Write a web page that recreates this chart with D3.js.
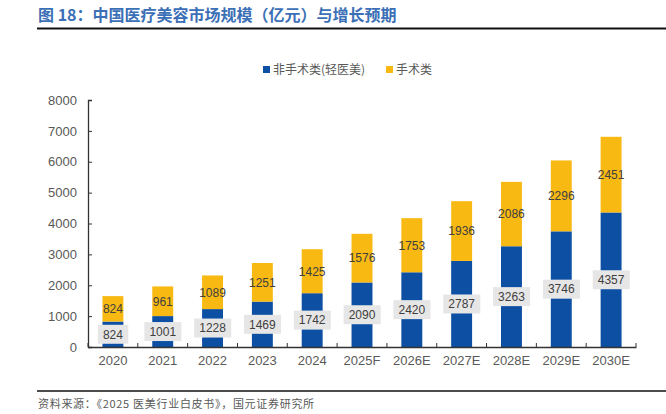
<!DOCTYPE html>
<html>
<head>
<meta charset="utf-8">
<script src="https://cdn.jsdelivr.net/npm/d3@7"></script>
<style>
  body { margin: 0; background: #fff; }
  text { font-family: "Liberation Sans", Arial, "Noto Sans CJK SC", sans-serif; }
  .cjk { font-family: "Noto Sans CJK SC", sans-serif; }
</style>
</head>
<body>
<div id="chart"></div>
<script>
const years = ["2020", "2021", "2022", "2023", "2024", "2025F", "2026E", "2027E", "2028E", "2029E", "2030E"];
const nonSurgical = [824, 1001, 1228, 1469, 1742, 2090, 2420, 2787, 3263, 3746, 4357];
const surgical = [824, 961, 1089, 1251, 1425, 1576, 1753, 1936, 2086, 2296, 2451];
const yTicks = [0, 1000, 2000, 3000, 4000, 5000, 6000, 7000, 8000];
const seriesNames = ["非手术类(轻医美)", "手术类"];

const width = 666, height = 414;
const blue = "#0c4fa3", yellow = "#f8b912";
const margin = { left: 88, right: 30, top: 100, bottom: 67 };

const svg = d3.select("#chart").append("svg")
  .attr("width", width)
  .attr("height", height);

// title
svg.append("text")
  .attr("class", "cjk")
  .attr("x", 38)
  .attr("y", 21)
  .attr("fill", "#3b6fb6")
  .attr("font-size", 16)
  .attr("font-weight", "bold")
  .text("图 18：中国医疗美容市场规模（亿元）与增长预期");

svg.append("line")
  .attr("x1", 37).attr("x2", width)
  .attr("y1", 28.5).attr("y2", 28.5)
  .attr("stroke", "#111").attr("stroke-width", 2);

const x = d3.scaleBand()
  .domain(years)
  .range([margin.left, width - margin.right])
  .paddingInner(0.58)
  .paddingOuter(0.29);

const y = d3.scaleLinear()
  .domain([0, 8000])
  .range([height - margin.bottom, margin.top]);

// stacked bars
const rows = years.map((yr, i) => ({ year: yr, a: nonSurgical[i], b: surgical[i] }));

svg.append("g").selectAll("rect")
  .data(rows)
  .join("rect")
  .attr("x", d => x(d.year))
  .attr("width", x.bandwidth())
  .attr("y", d => y(d.a))
  .attr("height", d => y(0) - y(d.a))
  .attr("fill", blue);

svg.append("g").selectAll("rect")
  .data(rows)
  .join("rect")
  .attr("x", d => x(d.year))
  .attr("width", x.bandwidth())
  .attr("y", d => y(d.a + d.b))
  .attr("height", d => y(d.a) - y(d.a + d.b))
  .attr("fill", yellow);

// axes
const xAxis = svg.append("g")
  .attr("transform", `translate(0,${y(0)})`)
  .call(d3.axisBottom(x).tickSize(0).tickPadding(9));
xAxis.select(".domain").attr("stroke", "#333").attr("stroke-width", 1.3);
xAxis.selectAll("text").attr("font-size", 13).attr("fill", "#595959");

// inward category separators
const step = x.step();
const seps = d3.range(years.length + 1).map(i => margin.left + i * step);
xAxis.selectAll(".sep")
  .data(seps)
  .join("line")
  .attr("class", "sep")
  .attr("x1", d => d).attr("x2", d => d)
  .attr("y1", 0).attr("y2", -4)
  .attr("stroke", "#333");

const yAxis = svg.append("g")
  .attr("transform", `translate(${margin.left},0)`)
  .call(d3.axisLeft(y).tickValues(yTicks).tickFormat(d3.format("d")).tickSize(-4).tickPadding(11));
yAxis.select(".domain").attr("stroke", "#333").attr("stroke-width", 1.3);
yAxis.selectAll(".tick line").attr("stroke", "#333");
yAxis.selectAll("text").attr("font-size", 13).attr("fill", "#595959");

// labels: non-surgical in grey boxes
const boxLabels = svg.append("g").selectAll("g")
  .data(rows)
  .join("g")
  .attr("transform", d => `translate(${x(d.year) + x.bandwidth() / 2},${(y(0) + y(d.a)) / 2})`);

boxLabels.append("text")
  .attr("text-anchor", "middle")
  .attr("dy", "0.36em")
  .attr("font-size", 12)
  .attr("fill", "#404040")
  .text(d => d.a)
  .each(function () {
    const bb = this.getBBox();
    d3.select(this.parentNode).insert("rect", "text")
      .attr("x", bb.x - 5)
      .attr("y", -9.5)
      .attr("width", bb.width + 10)
      .attr("height", 19)
      .attr("fill", "#e6e6e6");
  });

svg.append("g").selectAll("text")
  .data(rows)
  .join("text")
  .attr("x", d => x(d.year) + x.bandwidth() / 2)
  .attr("y", d => (y(d.a) + y(d.a + d.b)) / 2)
  .attr("dy", "0.36em")
  .attr("text-anchor", "middle")
  .attr("font-size", 12)
  .attr("fill", "#404040")
  .text(d => d.b);

// legend
const legend = svg.append("g").attr("transform", "translate(263,70)");
const legendX = [0, 123];
[blue, yellow].forEach((c, i) => {
  legend.append("rect")
    .attr("x", legendX[i]).attr("y", -4)
    .attr("width", 7).attr("height", 7)
    .attr("fill", c);
  legend.append("text")
    .attr("class", "cjk")
    .attr("x", legendX[i] + 10)
    .attr("y", 0)
    .attr("dy", "0.35em")
    .attr("font-size", 12)
    .attr("fill", "#595959")
    .text(seriesNames[i]);
});

// footer
svg.append("line")
  .attr("x1", 37).attr("x2", width)
  .attr("y1", 391).attr("y2", 391)
  .attr("stroke", "#111").attr("stroke-width", 1.5);

svg.append("text")
  .attr("class", "cjk")
  .attr("x", 38)
  .attr("y", 408)
  .attr("font-size", 11)
  .attr("letter-spacing", 0.7)
  .attr("fill", "#595959")
  .text("资料来源：《2025 医美行业白皮书》，国元证券研究所");
</script>
</body>
</html>
